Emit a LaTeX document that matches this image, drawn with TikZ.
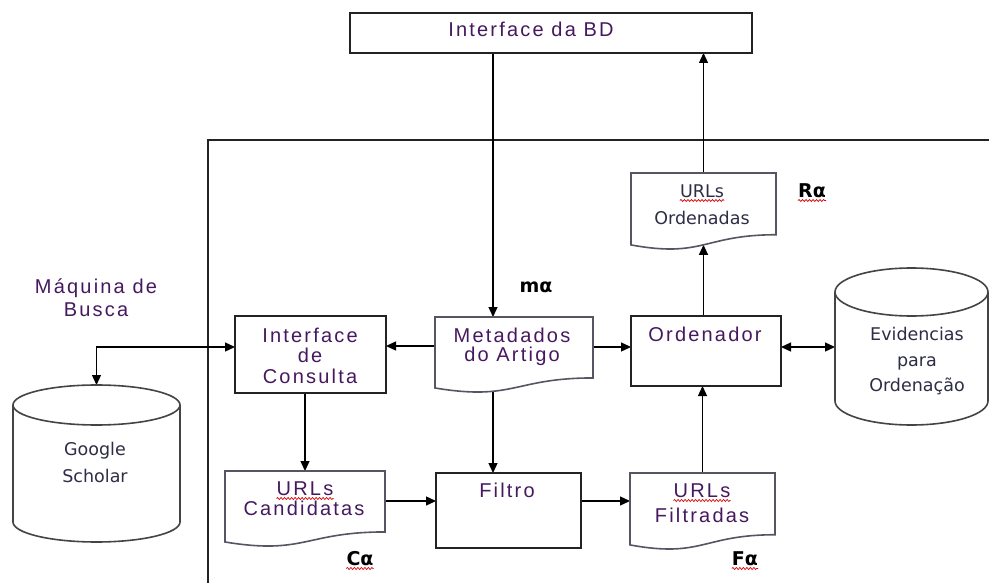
\documentclass[tikz,border=0pt]{standalone}
\usepackage{fontspec}
\setmainfont{Liberation Sans}
\newfontfamily\fa[LetterSpace=11]{Liberation Sans}
\newfontfamily\fd{DejaVu Sans}
\usetikzlibrary{arrows.meta,calc,backgrounds,decorations.pathmorphing}
\definecolor{txtp}{RGB}{70,25,95}
\definecolor{txtd}{RGB}{45,45,70}
\definecolor{lnc}{RGB}{35,35,35}
\definecolor{docc}{RGB}{85,85,100}
\newcommand\mydoc[1]{%
 \draw[docline] (#1.north west) -- (#1.north east) -- ($(#1.north east)!0.802!(#1.south east)$)
   .. controls ($(#1.north)!0.802!(#1.south)$) and ($(#1.north)!1.107!(#1.south)$) .. ($(#1.north west)!0.934!(#1.south west)$) coordinate[pos=0.5] (#1-bot) -- cycle;}
\newcommand\mycyl[3]{%
 \draw[cylline] ($(#1.north west)+(0,#3)$) -- ($(#1.south west)+(0,-#3)$) arc[start angle=180,end angle=360,x radius=#2pt,y radius=#3pt] -- ($(#1.north east)+(0,#3)$);
 \draw[cylline] ($(#1.north)+(0,#3)$) ellipse[x radius=#2pt,y radius=#3pt];}
\newcommand\wavy[1]{\draw[wavyline] ([yshift=-3.5pt]#1.base west) -- ([yshift=-3.5pt]#1.base east);}
\begin{document}
\begin{tikzpicture}[x=1pt,y=-1pt,
  boxs/.style={draw=lnc,line width=1.6pt,fill=white,rectangle,inner sep=0pt,outer sep=0pt,anchor=north west},
  ghost/.style={rectangle,inner sep=0pt,outer sep=0pt,anchor=north west},
  docline/.style={draw=docc,line width=1.6pt,fill=white},
  cylline/.style={draw=lnc!85,line width=1.6pt,fill=white},
  frame/.style={draw=lnc,line width=1.6pt},
  conn/.style={draw=black,line width=1.3pt},
  arr/.style={conn,-{Triangle[length=10pt,width=9pt]}},
  arrb/.style={conn,{Triangle[length=10pt,width=9pt]}-{Triangle[length=10pt,width=9pt]}},
  ta/.style={font=\fa\fontsize{20}{24}\selectfont,text=txtp,inner sep=0pt,anchor=base},
  td/.style={font=\fd\fontsize{17.5}{21}\selectfont,text=txtd,inner sep=0pt,anchor=base},
  tg/.style={font=\fd\bfseries\fontsize{19}{23}\selectfont,text=black,inner sep=0pt,anchor=base},
  wavyline/.style={draw=red!85!black,line width=0.7pt,decorate,decoration={snake,amplitude=1pt,segment length=3.5pt}}
]
\useasboundingbox (0,0) rectangle (989,583);

% boxes
\node[boxs,minimum width=402pt,minimum height=40pt] (bd) at (350,13) {};
\node[boxs,minimum width=151pt,minimum height=77pt] (ic) at (235,316) {};
\node[boxs,minimum width=150pt,minimum height=70pt] (ord) at (631,316) {};
\node[boxs,minimum width=145pt,minimum height=75pt] (filtro) at (436,473) {};

% documents
\node[ghost,minimum width=158pt,minimum height=76pt] (meta) at (435,317) {};
\node[ghost,minimum width=145pt,minimum height=77pt] (ordo) at (631,173) {};
\node[ghost,minimum width=160pt,minimum height=76pt] (cand) at (225,471) {};
\node[ghost,minimum width=145pt,minimum height=77pt] (filt) at (630,473) {};
\mydoc{meta}
\mydoc{ordo}
\mydoc{cand}
\mydoc{filt}

% cylinders
\node[ghost,minimum width=167pt,minimum height=157pt] (gs) at (13,385) {};
\node[ghost,minimum width=153pt,minimum height=157pt] (ev) at (835,268) {};
\mycyl{gs}{83.5}{20}
\mycyl{ev}{76.5}{24}

% reference coordinates
\coordinate (x493) at (493,0);
\coordinate (y346) at (0,346);
\coordinate (y347) at (0,347);
\coordinate (y501) at (0,501);

% connectors
\begin{scope}[on background layer]
\fill[white] (0,0) rectangle (989,583);
\draw[frame] (208,600) -- (208,140) -- (1000,140);
\draw[arr] (bd.south -| x493) -- (meta.north -| x493);
\draw[arr] (meta.center -| x493) -- (filtro.north -| x493);
\draw[arr] (meta.west |- y346) -- (ic.east |- y346);
\draw[arr] (meta.east |- y347) -- (ord.west |- y347);
\draw[arrb] (gs.north) |- (ic.west |- y347);
\draw[arr] (ic.south -| cand.north) -- (cand.north);
\draw[arr] (cand.east |- y501) -- (filtro.west |- y501);
\draw[arr] (filtro.east |- y501) -- (filt.west |- y501);
\draw[arr] (filt.center) -- (filt.center |- ord.south);
\draw[arrb] (ord.east |- y347) -- (ev.west |- y347);
\draw[arr] (ord.north -| ordo-bot) -- (ordo-bot);
\draw[arr] (ordo.north) -- (ordo.north |- bd.south);
\end{scope}

% texts
\node[ta] (bdt) at (531,37) {Interface da BD};
\node[ta] (mq1) at (96,293) {Máquina de};
\node[ta] (mq2) at (96,316) {Busca};
\node[ta] (ic1) at (310,342) {Interface};
\node[ta] (ic2) at (310,362) {de};
\node[ta] (ic3) at (310,383) {Consulta};
\node[ta] (me1) at (512,342) {Metadados};
\node[ta] (me2) at (512,361) {do Artigo};
\node[tg] (malpha) at (536,292) {mα};
\node[ta] (ordt) at (705,341) {Ordenador};
\node[td] (oo1) at (702,197) {URLs};
\node[td] (oo2) at (702,225) {Ordenadas};
\node[tg] (ralpha) at (812,197) {Rα};
\node[td] (ev1) at (917,340) {Evidencias};
\node[td] (ev2) at (917,366) {para};
\node[td] (ev3) at (917,391) {Ordenação};
\node[td] (gs1) at (95,455) {Google};
\node[td] (gs2) at (95,482) {Scholar};
\node[ta] (ca1) at (305,495) {URLs};
\node[ta] (ca2) at (304,515) {Candidatas};
\node[ta] (fit) at (507,497) {Filtro};
\node[tg] (calpha) at (360,565) {Cα};
\node[ta] (fi1) at (702,497) {URLs};
\node[ta] (fi2) at (702,522) {Filtradas};
\node[tg] (falpha) at (745,565) {Fα};

% spelling underlines
\wavy{oo1}
\wavy{ralpha}
\wavy{ca1}
\wavy{calpha}
\wavy{fi1}
\wavy{falpha}
\end{tikzpicture}
\end{document}
